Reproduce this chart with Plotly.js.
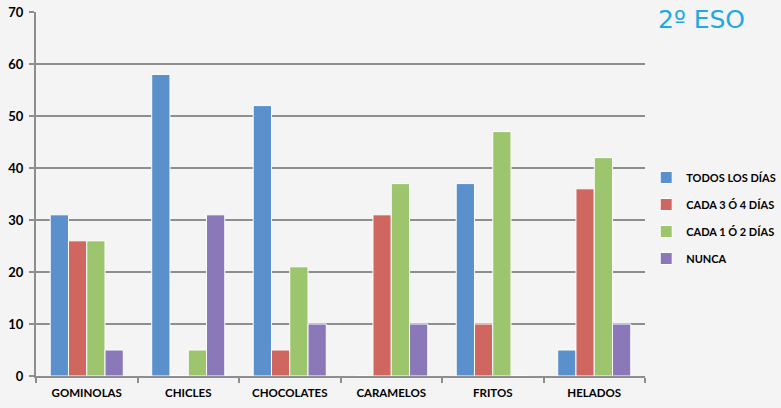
<!DOCTYPE html>
<html>
<head>
<meta charset="utf-8">
<script src="https://cdn.plot.ly/plotly-3.0.1.min.js"></script>
<style>html,body{margin:0;padding:0;background:#f4f4f4;}#chart{width:781px;height:408px;}</style>
</head>
<body>
<div id="chart"></div>
<script>
const categories = ["GOMINOLAS", "CHICLES", "CHOCOLATES", "CARAMELOS", "FRITOS", "HELADOS"];
const seriesNames = ["TODOS LOS DÍAS", "CADA 3 Ó 4 DÍAS", "CADA 1 Ó 2 DÍAS", "NUNCA"];
const todosLosDias = [31, 58, 52, 0, 37, 5];
const cada3o4 = [26, 0, 5, 31, 10, 36];
const cada1o2 = [26, 5, 21, 37, 47, 42];
const nunca = [5, 31, 10, 10, 0, 10];
const yTicks = [0, 10, 20, 30, 40, 50, 60, 70];
const titleText = "2º ESO";

const colors = ["#5a90cb", "#cf6660", "#9dc56e", "#8b78b8"];
const allValues = [todosLosDias, cada3o4, cada1o2, nunca];

const traces = allValues.map((vals, i) => ({
  type: "bar",
  name: seriesNames[i],
  x: categories,
  y: vals,
  legendgroup: "g" + i,
  marker: {color: colors[i], line: {color: "#ffffff", width: 1}},
  hoverinfo: "x+y+name"
}));

const gridColor = "#8e8e8e";
const layout = {
  width: 781, height: 408,
  margin: {l: 36, r: 136, t: 12, b: 32, autoexpand: false},
  paper_bgcolor: "#f4f4f4",
  plot_bgcolor: "#f4f4f4",
  barmode: "group",
  bargap: 0.28,
  bargroupgap: 0,
  showlegend: true,
  font: {family: "Lato, 'Open Sans', sans-serif", color: "#000"},
  xaxis: {
    type: "category",
    tickson: "boundaries",
    ticks: "outside", ticklen: 5, tickwidth: 2, tickcolor: gridColor,
    showline: true, linecolor: gridColor, linewidth: 2,
    showgrid: false,
    ticklabelstandoff: 5,
    tickfont: {family: "Lato, sans-serif", size: 11.5, color: "#000", weight: "bold"},
    fixedrange: true
  },
  yaxis: {
    range: [0, 70],
    tickvals: yTicks,
    ticktext: yTicks.map(String),
    ticks: "outside", ticklen: 5, tickwidth: 2, tickcolor: gridColor,
    showline: true, linecolor: gridColor, linewidth: 2,
    showgrid: true, gridcolor: gridColor, gridwidth: 2,
    zeroline: false,
    ticklabelstandoff: 3,
    tickfont: {family: "Lato, sans-serif", size: 13, color: "#000", weight: "bold"},
    fixedrange: true
  },
  legend: {
    x: 1.002, xanchor: "left", y: 0.434, yanchor: "middle",
    bgcolor: "rgba(0,0,0,0)",
    font: {family: "Lato, sans-serif", size: 11, color: "#000", weight: "bold"},
    tracegroupgap: 8,
    itemwidth: 30
  },
  annotations: [{
    text: titleText, xref: "paper", yref: "paper",
    x: 1.018, y: 1.025, xanchor: "left", yanchor: "top", showarrow: false,
    font: {family: "'DejaVu Sans', Verdana, sans-serif", size: 25, color: "#1fa9e1"}
  }]
};

Plotly.newPlot(document.getElementById("chart"), traces, layout, {displayModeBar: false, staticPlot: true});
</script>
</body>
</html>
